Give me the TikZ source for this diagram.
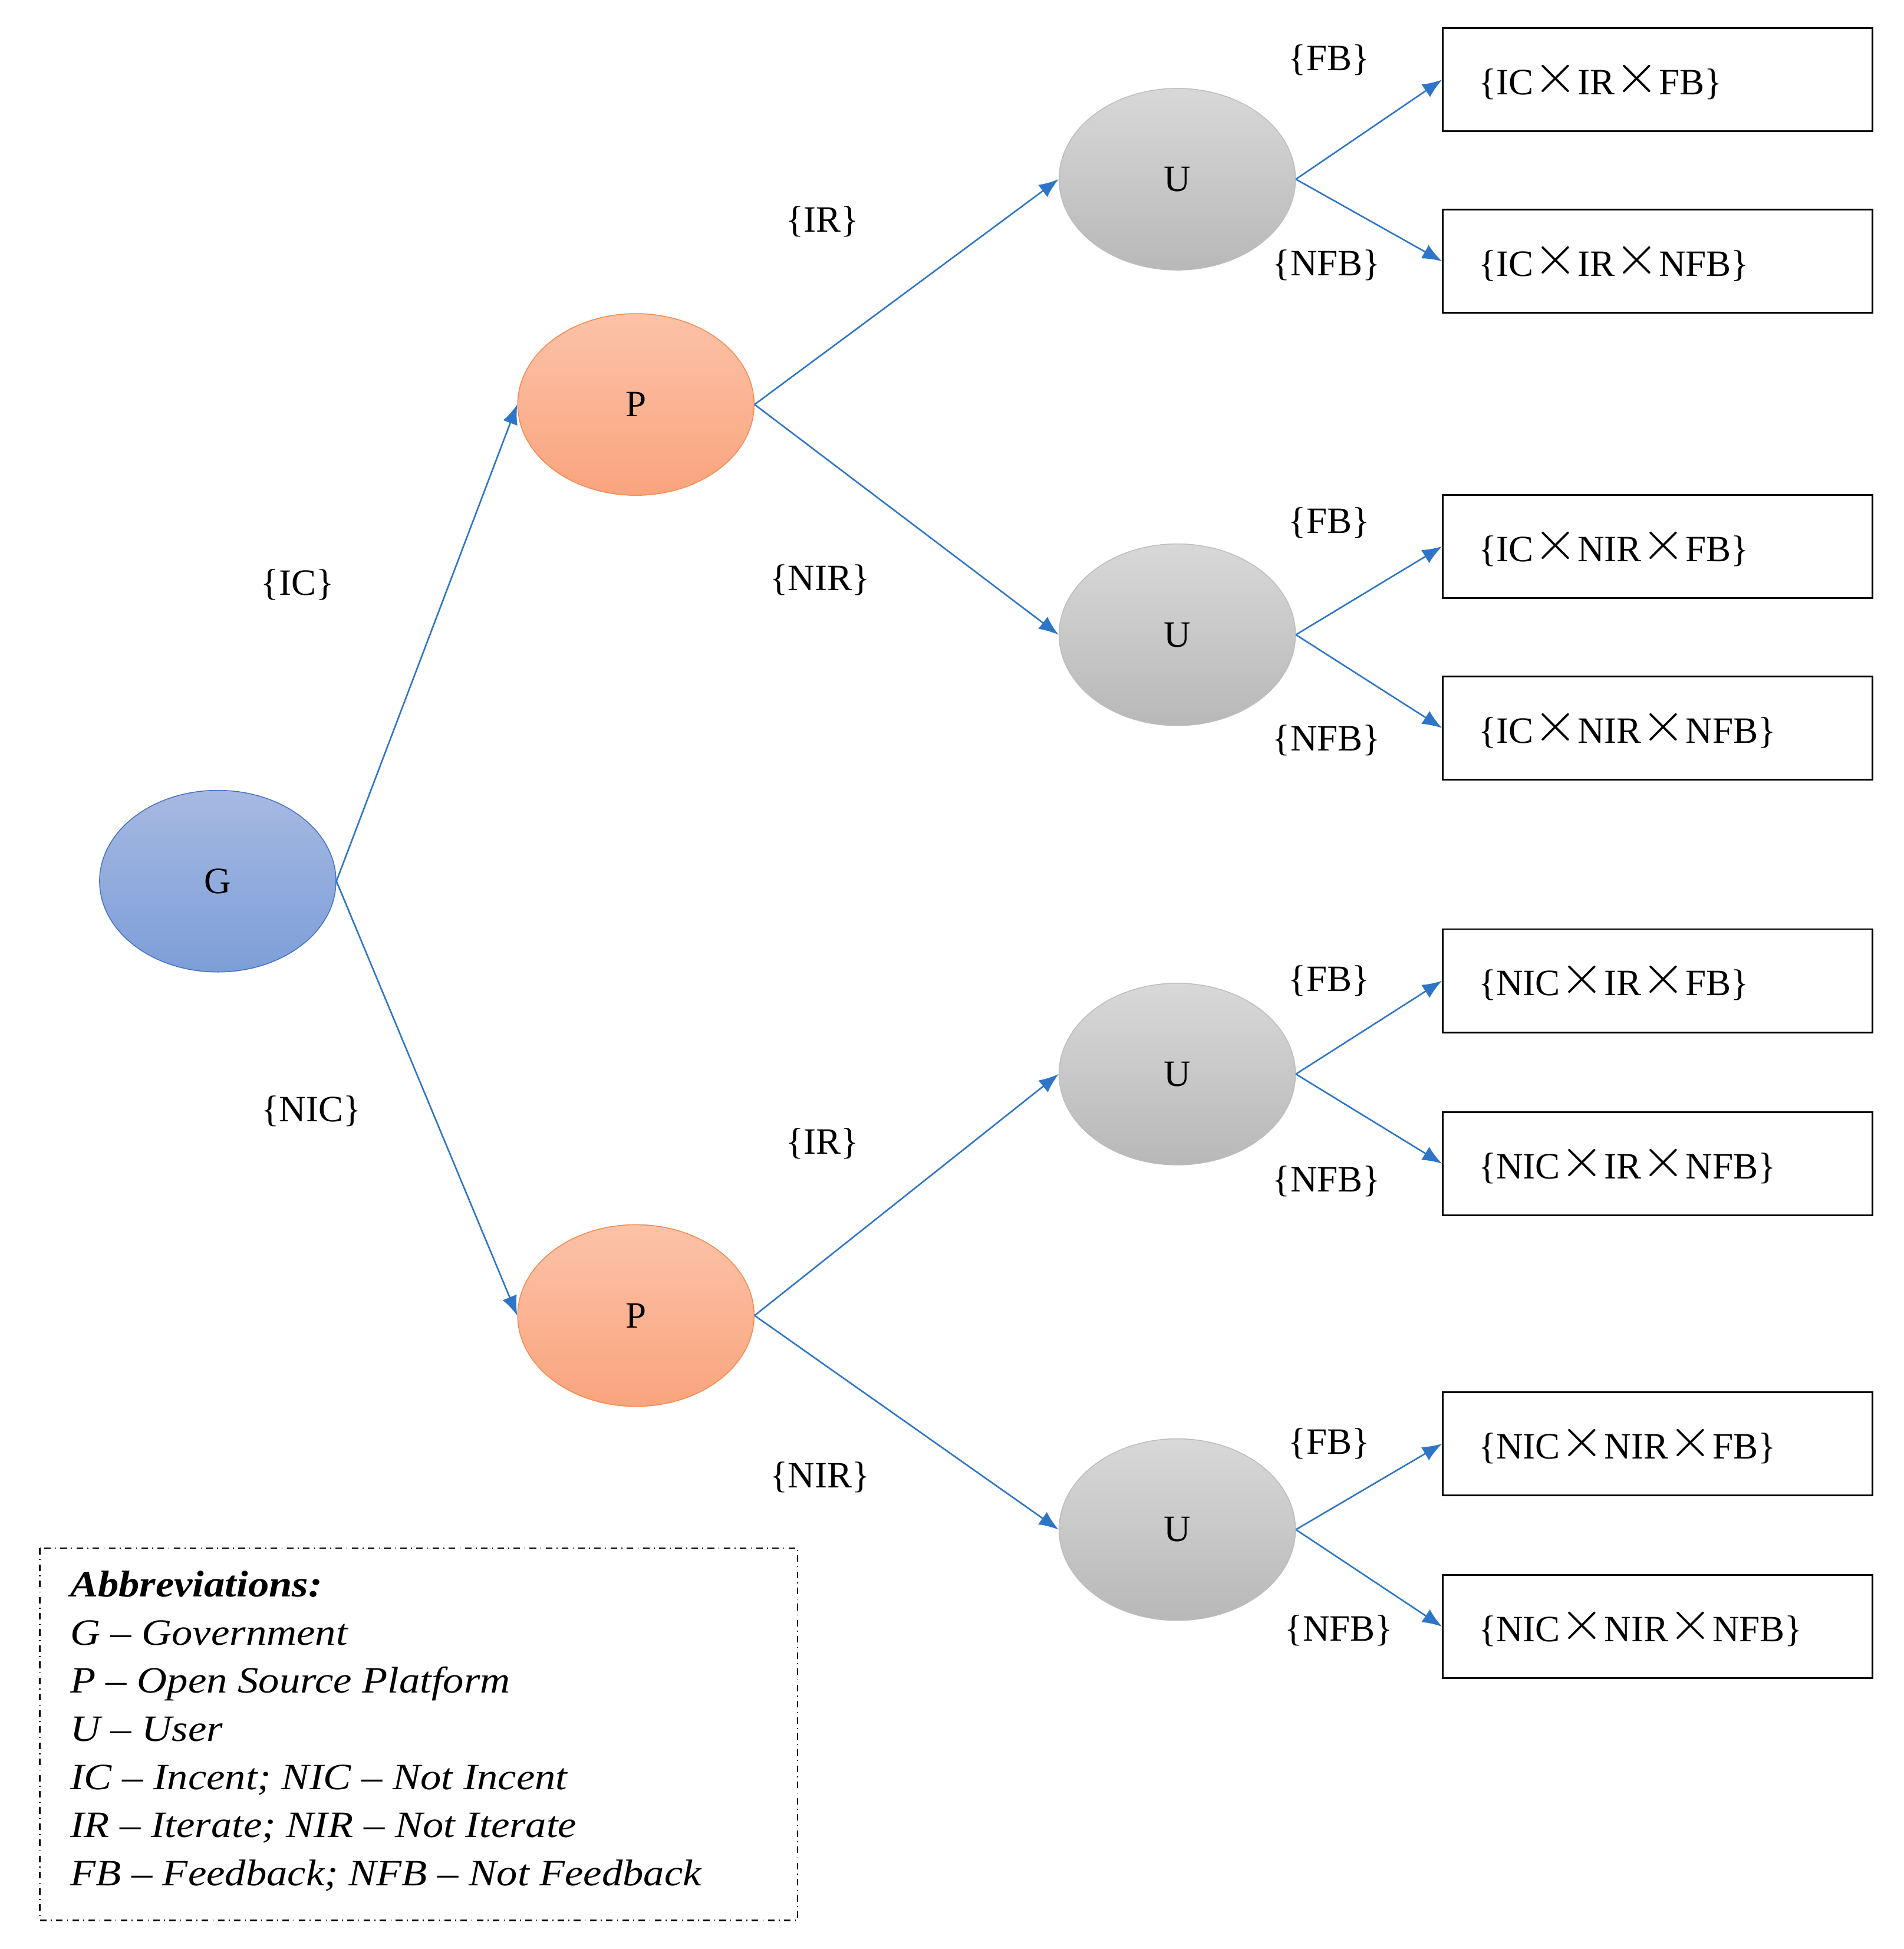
\documentclass[tikz,border=0pt]{standalone}
\usepackage{fontspec}
\setmainfont{Liberation Serif}
\usetikzlibrary{arrows.meta,shapes.geometric}
\definecolor{arr}{HTML}{2E75C8}
\newcommand{\X}{\raisebox{0.05em}{\scalebox{1.5}{$\times$}}}
\begin{document}
\begin{tikzpicture}[x=0.02cm,y=-0.02cm,font=\fontsize{17}{20}\selectfont,
 ell/.style={ellipse,minimum width=3.8cm,minimum height=2.92cm,inner sep=0pt},
 gn/.style={ell,draw=HTML4472C4,top color=Gtop,bottom color=Gbot},
 pn/.style={ell,draw=Pbd,top color=Ptop,bottom color=Pbot},
 un/.style={ell,draw=Ubd,top color=Utop,bottom color=Ubot},
 bx/.style={draw,thick,minimum width=6.9cm,minimum height=1.66cm,text width=5.76cm,align=left,inner sep=0pt},
 ar/.style={draw=arr,line width=0.7pt,-{Latex[length=9pt,width=7pt]}},
 lb/.style={inner sep=0pt}]
\definecolor{HTML4472C4}{HTML}{4472C4}
\definecolor{Gtop}{HTML}{A6B9E2}\definecolor{Gbot}{HTML}{7C9ED8}
\definecolor{Pbd}{HTML}{F58A4C}\definecolor{Ptop}{HTML}{FDC2A8}\definecolor{Pbot}{HTML}{F9A47E}
\definecolor{Ubd}{HTML}{BDBDBD}\definecolor{Utop}{HTML}{D8D8D8}\definecolor{Ubot}{HTML}{B8B8B8}
\useasboundingbox (0,0) rectangle (1530,1566);
\node[gn] (G) at (175,708) {G};
\node[pn] (P1) at (511,325) {P};
\node[pn] (P2) at (511,1057) {P};
\node[un] (U1) at (946,144) {U};
\node[un] (U2) at (946,510) {U};
\node[un] (U3) at (946,863) {U};
\node[un] (U4) at (946,1229) {U};
\node[bx] (B1) at (1332,64) {\{IC\X IR\X FB\}};
\node[bx] (B2) at (1332,210) {\{IC\X IR\X NFB\}};
\node[bx] (B3) at (1332,439) {\{IC\X NIR\X FB\}};
\node[bx] (B4) at (1332,585) {\{IC\X NIR\X NFB\}};
\node[bx] (B5) at (1332,788) {\{NIC\X IR\X FB\}};
\node[bx] (B6) at (1332,935) {\{NIC\X IR\X NFB\}};
\node[bx] (B7) at (1332,1160) {\{NIC\X NIR\X FB\}};
\node[bx] (B8) at (1332,1307) {\{NIC\X NIR\X NFB\}};
\draw[ar] (G.east) -- (P1.west);
\draw[ar] (G.east) -- (P2.west);
\draw[ar] (P1.east) -- (U1.west);
\draw[ar] (P1.east) -- (U2.west);
\draw[ar] (P2.east) -- (U3.west);
\draw[ar] (P2.east) -- (U4.west);
\foreach \u/\a/\b in {U1/B1/B2,U2/B3/B4,U3/B5/B6,U4/B7/B8}{
 \draw[ar] (\u.east) -- (\a.west);
 \draw[ar] (\u.east) -- (\b.west);}
\node[lb] (l1) at (239,470) {\{IC\}};
\node[lb] (l2) at (250,893) {\{NIC\}};
\node[lb] (l3) at (661,178) {\{IR\}};
\node[lb] (l4) at (659,466) {\{NIR\}};
\node[lb] (l5) at (661,919) {\{IR\}};
\node[lb] (l6) at (659,1187) {\{NIR\}};
\node[lb] (f1) at (1068,48) {\{FB\}};
\node[lb] (f2) at (1066,213) {\{NFB\}};
\node[lb] (f3) at (1068,420) {\{FB\}};
\node[lb] (f4) at (1066,595) {\{NFB\}};
\node[lb] (f5) at (1068,788) {\{FB\}};
\node[lb] (f6) at (1066,949) {\{NFB\}};
\node[lb] (f7) at (1068,1160) {\{FB\}};
\node[lb] (f8) at (1076,1310) {\{NFB\}};
\draw[dash dot,line width=0.6pt] (32,1244) rectangle (641,1543);
\node[anchor=north west,align=left,inner sep=0pt,font=\fontsize{17}{22}\selectfont\itshape,xscale=1.12] (leg) at (56,1262)
{\textbf{Abbreviations:}\\
G -- Government\\
P -- Open Source Platform\\
U -- User\\
IC -- Incent; NIC -- Not Incent\\
IR -- Iterate; NIR -- Not Iterate\\
FB -- Feedback; NFB -- Not Feedback};
\end{tikzpicture}
\end{document}
